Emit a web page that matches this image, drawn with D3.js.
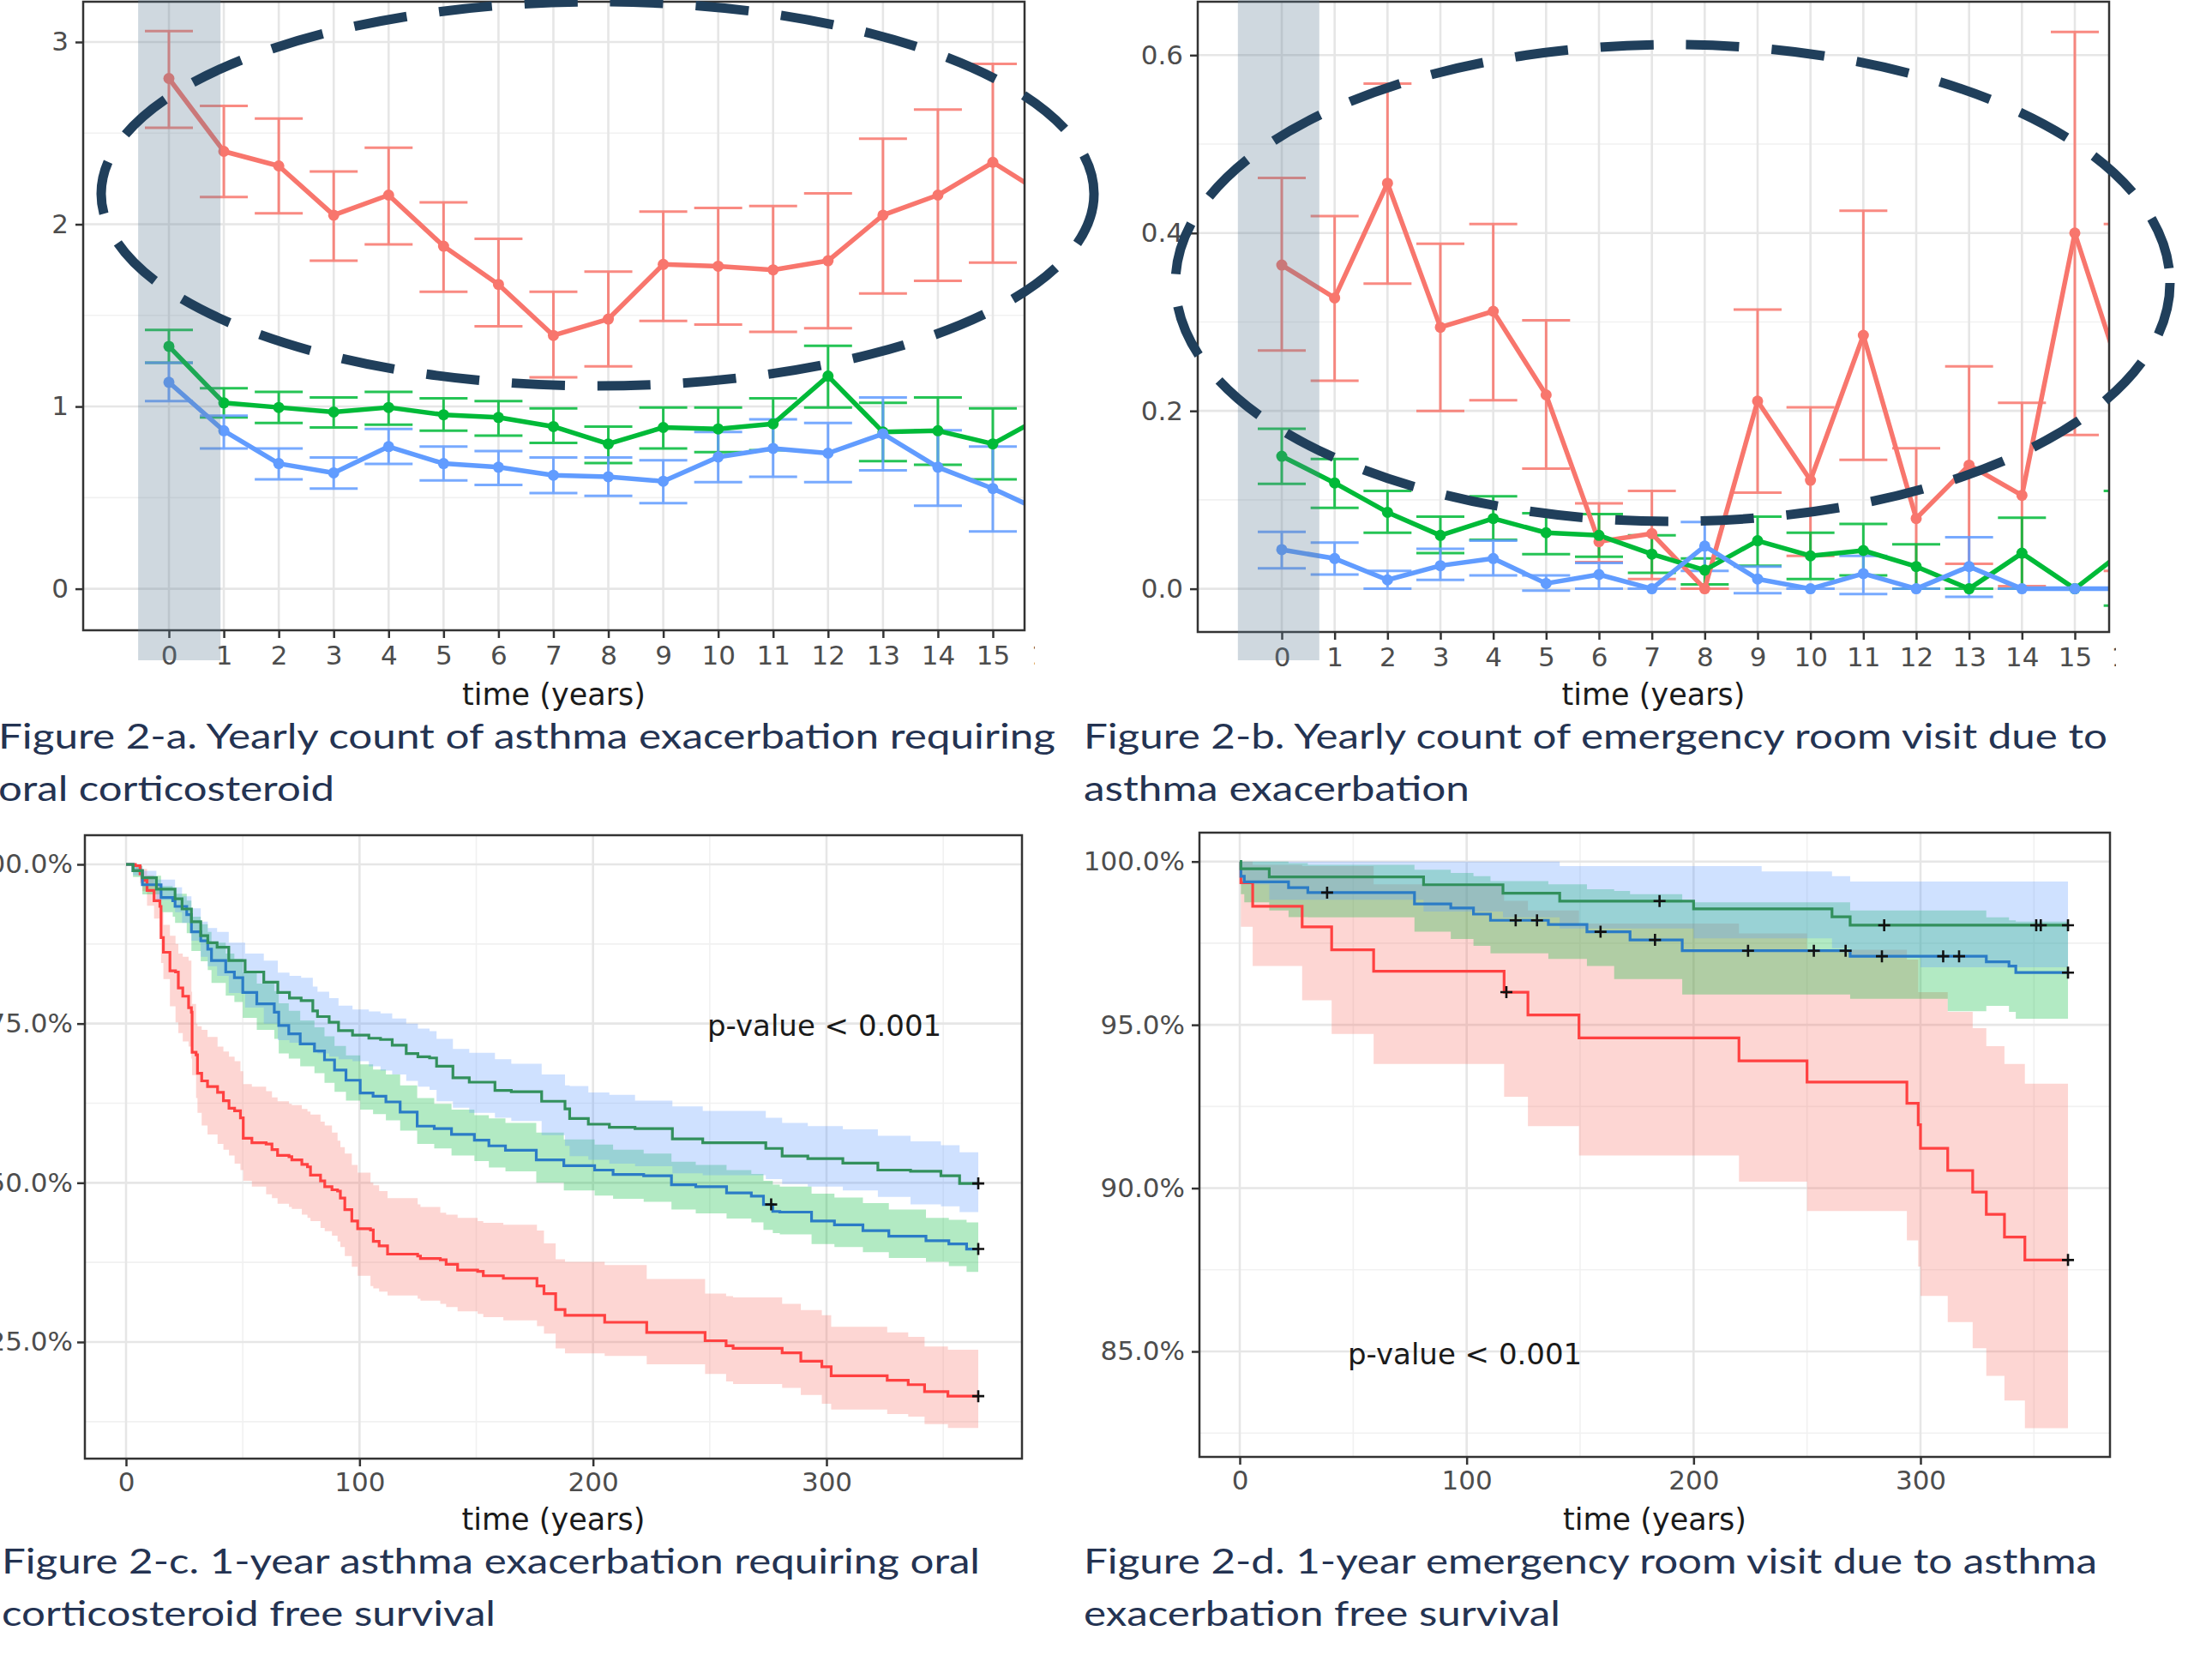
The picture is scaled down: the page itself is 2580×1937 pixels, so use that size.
<!DOCTYPE html>
<html>
<head>
<meta charset="utf-8">
<title>Figure 2</title>
<script src="https://cdn.jsdelivr.net/npm/d3@7"></script>
<style>
  body { margin: 0; background: #ffffff; }
</style>
</head>
<body>
<svg id="chart" width="2580" height="1937"></svg>
<script>
// ======================================
// Data: yearly counts, panels a and b (mean, lower, upper per year)
// ======================================
var years = [0, 1, 2, 3, 4, 5, 6, 7, 8, 9, 10, 11, 12, 13, 14, 15, 16];

var aRedMean   = [2.80, 2.40, 2.32, 2.05, 2.16, 1.88, 1.67, 1.39, 1.48, 1.78, 1.77, 1.75, 1.80, 2.05, 2.16, 2.34, 2.15];
var aRedLow    = [2.53, 2.15, 2.06, 1.80, 1.89, 1.63, 1.44, 1.16, 1.22, 1.47, 1.45, 1.41, 1.43, 1.62, 1.69, 1.79, 1.57];
var aRedHigh   = [3.06, 2.65, 2.58, 2.29, 2.42, 2.12, 1.92, 1.63, 1.74, 2.07, 2.09, 2.10, 2.17, 2.47, 2.63, 2.88, 2.78];
var aGreenMean = [1.33, 1.02, 0.995, 0.97, 0.995, 0.955, 0.94, 0.89, 0.795, 0.885, 0.877, 0.905, 1.167, 0.86, 0.867, 0.795, 0.96];
var aGreenLow  = [1.24, 0.94, 0.91, 0.885, 0.90, 0.867, 0.84, 0.80, 0.69, 0.77, 0.75, 0.76, 0.995, 0.70, 0.68, 0.60, 0.67];
var aGreenHigh = [1.42, 1.10, 1.08, 1.05, 1.08, 1.045, 1.03, 0.99, 0.89, 0.995, 0.995, 1.045, 1.333, 1.02, 1.05, 0.99, 1.24];
var aBlueMean  = [1.133, 0.867, 0.687, 0.636, 0.78, 0.687, 0.667, 0.623, 0.615, 0.59, 0.723, 0.77, 0.744, 0.85, 0.667, 0.55, 0.41];
var aBlueLow   = [1.03, 0.77, 0.60, 0.55, 0.685, 0.595, 0.57, 0.525, 0.51, 0.47, 0.585, 0.615, 0.585, 0.65, 0.456, 0.315, 0.167];
var aBlueHigh  = [1.24, 0.95, 0.77, 0.72, 0.877, 0.78, 0.756, 0.72, 0.72, 0.705, 0.86, 0.93, 0.91, 1.05, 0.87, 0.78, 0.667];

var bRedMean   = [0.364, 0.327, 0.456, 0.294, 0.312, 0.218, 0.053, 0.062, 0.0, 0.211, 0.122, 0.285, 0.079, 0.139, 0.105, 0.40, 0.217];
var bRedLow    = [0.268, 0.234, 0.343, 0.200, 0.212, 0.135, 0.030, 0.011, 0.0, 0.108, 0.037, 0.145, 0.0, 0.028, 0.003, 0.173, 0.02];
var bRedHigh   = [0.462, 0.419, 0.568, 0.388, 0.410, 0.302, 0.096, 0.110, 0.0, 0.314, 0.204, 0.425, 0.158, 0.250, 0.209, 0.626, 0.41];
var bGreenMean = [0.149, 0.119, 0.086, 0.060, 0.079, 0.063, 0.060, 0.039, 0.021, 0.054, 0.037, 0.043, 0.025, 0.0, 0.040, 0.0, 0.046];
var bGreenLow  = [0.118, 0.091, 0.063, 0.040, 0.055, 0.039, 0.036, 0.018, 0.005, 0.026, 0.011, 0.015, 0.0, 0.0, 0.0, 0.0, -0.019];
var bGreenHigh = [0.180, 0.146, 0.110, 0.081, 0.104, 0.085, 0.084, 0.060, 0.034, 0.081, 0.063, 0.073, 0.050, 0.0, 0.080, 0.0, 0.110];
var bBlueMean  = [0.044, 0.034, 0.010, 0.026, 0.034, 0.006, 0.016, 0.0, 0.048, 0.011, 0.0, 0.017, 0.0, 0.025, 0.0, 0.0, 0.0];
var bBlueLow   = [0.023, 0.016, 0.0, 0.010, 0.015, -0.002, 0.0, 0.0, 0.020, -0.005, 0.0, -0.006, 0.0, -0.009, 0.0, 0.0, 0.0];
var bBlueHigh  = [0.064, 0.052, 0.020, 0.045, 0.054, 0.015, 0.029, 0.0, 0.075, 0.025, 0.0, 0.037, 0.0, 0.058, 0.0, 0.0, 0.0];

// ======================================
// Data: Kaplan-Meier curves, panels c and d  -- rows are [day, survival %, lower %, upper %]
// ======================================
var cRedKM = [
  [0,100,100,100],[4,99.8,99.0,100],[6,98.5,97.0,99.8],[7,97.5,95.8,99.3],[9,95.9,93.5,98.3],
  [12,94.3,91.5,97.0],[14.5,93.4,90.2,96.3],[15,88.5,84.5,92.5],[16,86.2,82.0,90.5],[18.8,83.3,77.7,88.8],
  [21.2,83.1,75.2,87.5],[22.4,80.6,73.5,86.0],[24.3,79.3,72.2,85.5],[26.8,77.5,71.4,84.9],[28,76.8,69.5,80.0],
  [28.3,70.5,66.9,78.1],[30,70.1,63.3,75.0],[30.6,67.2,61.0,74.6],[32.4,66.0,59.0,74.0],[34.9,65.1,57.6,72.9],
  [39.2,64.2,56.1,71.4],[41.7,62.9,55.2,70.6],[44.1,61.7,54.3,69.8],[46.5,61.3,53.0,69.1],[49,60.2,52.0,67.5],
  [50.2,57.0,50.3,65.5],[53.9,56.3,49.4,65.1],[60,56.1,48.2,64.4],[62.5,55.2,47.6,63.4],[64.9,54.3,46.7,62.8],
  [69.8,54.1,46.2,62.4],[71,53.6,45.9,62.2],[75.3,52.9,45.0,61.6],[77.7,52.5,44.5,61.2],[79,51.2,44.0,60.7],
  [83.3,50.3,42.9,59.6],[85.1,49.4,42.4,59.0],[88.2,48.9,41.7,57.9],[90.6,48.7,40.8,56.6],[91.8,47.6,39.9,55.6],
  [93.7,45.8,38.5,54.6],[96.7,44.0,36.8,52.8],[99.2,42.8,35.4,51.6],[104.7,42.6,33.8,50.0],[105.9,40.8,33.4,49.6],
  [108.4,40.1,32.9,48.7],[112,38.8,32.3,47.6],[124.9,38.5,31.8,46.6],[126.1,38.1,31.5,46.2],[134.6,37.9,31.0,45.3],
  [137.1,37.2,30.5,45.0],[142,36.3,29.8,44.5],[150.6,36.1,29.4,44.0],[153,35.4,28.9,43.7],[161.6,35.0,28.4,43.4],
  [176,33.8,27.5,42.5],[179,32.6,26.3,40.5],[184,30.1,24.0,38.0],[188,29.2,23.2,37.6],[205,28.1,22.8,37.1],
  [223,26.5,21.5,34.9],[248,25.2,20.0,32.6],[257,24.4,18.8,32.2],[260,24.0,18.4,32.0],[281,23.3,17.8,31.0],
  [289,22.0,16.7,30.0],[298,21.1,15.3,29.2],[302,19.7,14.4,27.4],[326,19.0,13.7,26.5],[335,18.3,13.3,25.8],
  [342,17.2,12.1,24.3],[352,16.5,11.5,23.8],[365,16.5,11.5,23.6]
];
var cTopKM = [
  [0,100,100,100],[3,99,98.3,99.7],[7,97.9,96.6,99.0],[13,96.1,94.4,97.6],[21,94.6,92.5,96.4],
  [24,93.0,90.8,95.0],[28,91.0,88.0,93.1],[32,88.8,85.5,91.0],[35,87.7,84.0,90.0],[39,87.0,82.5,89.4],
  [44,84.9,79.8,87.7],[51,83.1,77.5,86.0],[59,81.5,75.0,84.9],[65,79.9,72.4,83.0],[70,79.0,72.0,82.5],
  [75,78.6,71.8,82.2],[80,77.0,70.8,80.8],[82,76.1,70.3,80.0],[87,75.2,69.8,79.0],[91,73.9,69.4,77.8],
  [97,73.2,69.1,77.2],[104,72.7,68.3,76.9],[109,72.5,67.6,76.6],[114,71.6,67.0,75.8],[120,70.3,66.0,75.0],
  [125,69.8,65.1,74.2],[130,69.6,64.6,73.8],[133,68.3,62.8,72.6],[140,66.5,61.8,71.0],[147,65.8,61.0,70.4],
  [158,64.5,60.2,69.4],[165,64.3,59.7,68.7],[178,62.8,57.5,67.0],[188,61.6,55.8,65.3],[190,60.1,54.2,65.2],
  [198,59.2,53.6,64.2],[207,58.7,53.0,63.8],[218,58.5,52.6,62.9],[234,56.9,51.5,62.0],[247,56.3,51.2,61.3],
  [274,55.4,50.6,60.2],[281,54.2,49.8,59.4],[292,53.8,49.4,58.9],[307,53.1,48.8,58.4],[322,52.0,47.8,57.4],
  [336,51.8,46.6,56.5],[349,51.1,46.3,55.9],[357,49.9,45.4,54.8],[365,49.9,45.4,54.8]
];
var cMidKM = [
  [0,100,100,100],[3,99,98.0,99.8],[7,96.8,95.3,98.2],[15,94.8,92.5,96.6],[20,94.3,91.8,96.2],
  [21,93.4,90.8,95.4],[26,92.1,89.2,94.3],[28,89.4,86.4,91.8],[32,88.0,84.8,90.6],[35,86.7,83.4,89.4],
  [36.6,84.9,81.4,87.7],[42.7,83.1,79.4,86.0],[46.4,82.2,78.4,85.2],[50,79.9,75.9,83.0],[56,78.1,74.0,81.3],
  [63.5,76.8,72.6,80.1],[65.4,74.7,70.3,78.2],[69.7,73.4,69.5,77.0],[74.6,71.8,68.3,75.5],[80.7,70.7,67.2,74.4],
  [85,69.3,65.7,73.0],[89.3,67.7,64.3,71.5],[94.2,66.1,62.9,70.0],[100.3,64.1,61.5,68.6],[105.8,63.6,60.8,67.8],
  [111.3,62.7,59.8,67.0],[117.4,61.1,58.2,65.3],[124.7,58.9,56.1,63.3],[132,58.5,55.4,62.4],[139.4,57.6,54.3,61.5],
  [149.2,56.7,53.4,60.6],[155.4,55.8,52.4,60.1],[162.5,55.1,51.8,59.4],[175.7,53.6,50.0,57.9],[187.5,52.7,48.8,56.8],
  [200.7,52.0,48.0,56.0],[208.6,51.3,47.5,55.2],[221.7,51.1,47.0,54.6],[233.6,49.7,45.8,53.3],[244,49.4,45.2,52.8],
  [257.2,48.4,44.4,52.0],[267.8,47.9,43.8,51.4],[273,46.6,42.6,50.3],[277,45.5,42.1,49.7],[280,45.4,41.9,49.4],
  [293.6,44.0,40.4,48.3],[303.4,43.4,39.9,47.7],[315.6,42.5,39.1,46.8],[326.7,41.6,38.2,45.8],[342.6,40.9,37.6,44.5],
  [352.4,40.4,36.9,44.2],[360,39.6,36.0,43.8],[365,39.6,36.0,43.8]
];
var cRedCensor = [365];
var cTopCensor = [365];
var cMidCensor = [276.3, 365];

var dRedKM = [
  [0,100,100,100],[0.5,99.35,98.0,100],[5.7,98.63,96.8,99.9],[27.5,98.0,95.75,99.86],[40.5,97.3,94.72,99.86],
  [59,96.64,93.8,99.3],[116.5,96.0,92.8,98.8],[127,95.3,91.9,98.5],[149.5,94.6,91.0,98.1],[220,93.9,90.2,97.8],
  [250,93.25,89.3,97.3],[294,92.6,88.4,97.0],[299,91.94,87.6,96.0],[300,91.22,86.7,96.0],[312,90.54,85.9,95.4],
  [323,89.88,85.1,94.9],[329,89.2,84.25,94.35],[337,88.5,83.5,93.8],[346,87.8,82.65,93.2],[365,87.8,82.65,93.2]
];
var dTopKM = [
  [0,100,100,100],[0.5,99.78,99.3,100],[13,99.53,98.83,100],[81,99.29,98.47,100],[116,99.03,98.29,100],
  [141,98.79,97.95,99.86],[200,98.55,97.65,99.86],[230,98.55,97.65,99.7],[261,98.31,97.35,99.55],
  [269,98.05,97.05,99.39],[300,98.05,96.76,99.39],[365,98.05,96.76,99.39]
];
var dMidKM = [
  [0,100,100,100],[0.5,99.55,99.0,100],[2,99.38,98.75,100],[13,99.38,98.5,100],[21.5,99.2,98.3,99.95],
  [30,99.05,98.29,99.9],[77,98.7,97.85,99.75],[93,98.58,97.63,99.65],[103,98.39,97.42,99.55],[110.5,98.2,97.19,99.4],
  [136,98.07,97.02,99.3],[153,97.85,96.8,99.15],[165,97.85,96.4,99.1],[172,97.6,96.4,99.0],[195,97.27,95.93,98.75],
  [269,97.1,95.8,98.5],[312,97.1,95.42,98.5],[329,96.93,95.58,98.29],[339,96.8,95.4,98.2],[342,96.6,95.19,98.16],
  [365,96.6,95.19,98.16]
];
var dRedCensor = [117.5, 365];
var dTopCensor = [185, 284, 351, 353, 365];
var dMidCensor = [38.5, 121.6, 131, 159, 183, 224, 253, 267, 283, 310, 317, 365];

// tick labels
var aYTicks = [0, 1, 2, 3];
var bYTicks = [0, 0.2, 0.4, 0.6];
var kmXTicks = [0, 100, 200, 300];
var cYTicks = [25, 50, 75, 100];
var dYTicks = [85, 90, 95, 100];

var captions = [
  ['Figure 2-a. Yearly count of asthma exacerbation requiring', 'oral corticosteroid'],
  ['Figure 2-b. Yearly count of emergency room visit due to', 'asthma exacerbation'],
  ['Figure 2-c. 1-year asthma exacerbation requiring oral', 'corticosteroid free survival'],
  ['Figure 2-d. 1-year emergency room visit due to asthma', 'exacerbation free survival']
];

// ======================================
// Colours and layout
// ======================================
var col = { red: '#F8766D', green: '#00BA38', blue: '#619CFF' };
var kmLine = { red: '#ff4141', top: '#32905c', mid: '#2b7cc6' };
var tickFont = 'DejaVu Sans';

var svg = d3.select('#chart');
var defs = svg.append('defs');

function addClip(id, x0, y0, x1, y1) {
  defs.append('clipPath').attr('id', id)
    .append('rect').attr('x', x0).attr('y', y0).attr('width', x1 - x0).attr('height', y1 - y0);
  return 'url(#' + id + ')';
}

function drawGrid(g, box, x, y, xMajor, xMinor, yMajor, yMinor) {
  var gg = g.append('g');
  gg.selectAll('.ymin').data(yMinor).enter().append('line')
    .attr('x1', box.left).attr('x2', box.right)
    .attr('y1', function(d){ return y(d); }).attr('y2', function(d){ return y(d); })
    .attr('stroke', '#f1f1f1').attr('stroke-width', 1.6);
  gg.selectAll('.xmin').data(xMinor).enter().append('line')
    .attr('y1', box.top).attr('y2', box.bottom)
    .attr('x1', function(d){ return x(d); }).attr('x2', function(d){ return x(d); })
    .attr('stroke', '#f1f1f1').attr('stroke-width', 1.6);
  gg.selectAll('.ymaj').data(yMajor).enter().append('line')
    .attr('x1', box.left).attr('x2', box.right)
    .attr('y1', function(d){ return y(d); }).attr('y2', function(d){ return y(d); })
    .attr('stroke', '#e6e6e6').attr('stroke-width', 2.6);
  gg.selectAll('.xmaj').data(xMajor.filter(function(d){ return x(d) > box.left && x(d) < box.right; }))
    .enter().append('line')
    .attr('y1', box.top).attr('y2', box.bottom)
    .attr('x1', function(d){ return x(d); }).attr('x2', function(d){ return x(d); })
    .attr('stroke', '#e6e6e6').attr('stroke-width', 2.6);
}

function styleAxis(sel) {
  sel.select('.domain').remove();
  sel.selectAll('.tick line').attr('stroke', '#333333').attr('stroke-width', 2.5);
  sel.selectAll('.tick text').attr('fill', '#4d4d4d')
    .attr('font-family', tickFont).attr('font-size', 31);
}

function drawFrame(g, box) {
  g.append('rect')
    .attr('x', box.left).attr('y', box.top)
    .attr('width', box.right - box.left).attr('height', box.bottom - box.top)
    .attr('fill', 'none').attr('stroke', '#333333').attr('stroke-width', 2.5);
}

function axisTitle(g, cx, baseline) {
  g.append('text').text('time (years)')
    .attr('x', cx).attr('y', baseline)
    .attr('text-anchor', 'middle')
    .attr('font-family', tickFont).attr('font-size', 35)
    .attr('fill', '#1a1a1a');
}

// ======================================
// Panels a and b: yearly counts with error bars
// ======================================
function yearlyPanel(p) {
  var g = svg.append('g');
  var box = p.box;
  var x = d3.scaleLinear().domain([0, 15]).range(p.xPx);
  var y = d3.scaleLinear().domain(p.yDom).range(p.yPx);

  drawGrid(g, box, x, y, years, [], p.yTicks, p.yMinor);

  var data = g.append('g').attr('clip-path', addClip(p.id + '-clip', box.left, box.top, box.right, box.bottom));
  var cap = 28;

  p.series.forEach(function(s){
    var eb = data.append('g').attr('stroke', s.color).attr('stroke-width', 3).attr('opacity', 0.85);
    years.forEach(function(yr, i){
      var cx = x(yr);
      eb.append('line').attr('x1', cx).attr('x2', cx).attr('y1', y(s.low[i])).attr('y2', y(s.high[i]));
      eb.append('line').attr('x1', cx - cap).attr('x2', cx + cap).attr('y1', y(s.low[i])).attr('y2', y(s.low[i]));
      eb.append('line').attr('x1', cx - cap).attr('x2', cx + cap).attr('y1', y(s.high[i])).attr('y2', y(s.high[i]));
    });
  });

  var line = d3.line()
    .x(function(d){ return x(d[0]); })
    .y(function(d){ return y(d[1]); });

  p.series.forEach(function(s){
    data.append('path')
      .datum(d3.zip(years, s.mean))
      .attr('d', line)
      .attr('fill', 'none').attr('stroke', s.color)
      .attr('stroke-width', 5.5).attr('stroke-linejoin', 'round');
  });
  p.series.forEach(function(s){
    data.selectAll(null).data(d3.zip(years, s.mean)).enter().append('circle')
      .attr('cx', function(d){ return x(d[0]); })
      .attr('cy', function(d){ return y(d[1]); })
      .attr('r', 6.5).attr('fill', s.color);
  });

  // axes (the outer group carries the clip, so the clip box is in page coordinates)
  var xaOuter = g.append('g')
    .attr('clip-path', addClip(p.id + '-xlab', box.left - 60, box.bottom - 5, p.labelClip, box.bottom + 90));
  var xa = xaOuter.append('g')
    .attr('transform', 'translate(0,' + box.bottom + ')')
    .call(d3.axisBottom(x).tickValues(years).tickSize(9).tickPadding(9).tickFormat(d3.format('d')));
  styleAxis(xa);
  var ya = g.append('g')
    .attr('transform', 'translate(' + box.left + ',0)')
    .call(d3.axisLeft(y).tickValues(p.yTicks).tickSize(9).tickPadding(8).tickFormat(p.yFormat));
  styleAxis(ya);

  drawFrame(g, box);
  axisTitle(g, (box.left + box.right) / 2, 822);

  // shaded baseline year
  g.append('rect')
    .attr('x', x(p.shade[0])).attr('y', 0)
    .attr('width', x(p.shade[1]) - x(p.shade[0])).attr('height', 770)
    .attr('fill', '#5f7d94').attr('opacity', 0.3);
}

yearlyPanel({
  id: 'pa',
  box: { left: 97, right: 1195, top: 2, bottom: 735 },
  xPx: [197, 1158],
  yDom: [0, 3], yPx: [686.6, 49],
  yTicks: aYTicks, yMinor: [0.5, 1.5, 2.5],
  yFormat: d3.format('d'),
  labelClip: 1207,
  shade: [-0.56, 0.94],
  series: [
    { color: col.red, mean: aRedMean, low: aRedLow, high: aRedHigh },
    { color: col.green, mean: aGreenMean, low: aGreenLow, high: aGreenHigh },
    { color: col.blue, mean: aBlueMean, low: aBlueLow, high: aBlueHigh }
  ]
});

yearlyPanel({
  id: 'pb',
  box: { left: 1397, right: 2460, top: 2, bottom: 737 },
  xPx: [1495, 2420],
  yDom: [0, 0.6], yPx: [686.6, 64.3],
  yTicks: bYTicks, yMinor: [0.1, 0.3, 0.5],
  yFormat: d3.format('.1f'),
  labelClip: 2468,
  shade: [-0.83, 0.71],
  series: [
    { color: col.red, mean: bRedMean, low: bRedLow, high: bRedHigh },
    { color: col.green, mean: bGreenMean, low: bGreenLow, high: bGreenHigh },
    { color: col.blue, mean: bBlueMean, low: bBlueLow, high: bBlueHigh }
  ]
});

// ======================================
// Panels c and d: Kaplan-Meier curves
// ======================================
function kmPanel(p) {
  var g = svg.append('g');
  var box = p.box;
  var x = d3.scaleLinear().domain([0, 300]).range(p.xPx);
  var y = d3.scaleLinear().domain(p.yDom).range(p.yPx);

  drawGrid(g, box, x, y, kmXTicks, [50, 150, 250, 350], p.yTicks, p.yMinor);

  var data = g.append('g').attr('clip-path', addClip(p.id + '-clip', box.left, box.top, box.right, box.bottom));

  var area = d3.area().curve(d3.curveStepAfter)
    .x(function(d){ return x(d[0]); })
    .y0(function(d){ return y(d[2]); })
    .y1(function(d){ return y(d[3]); });
  var line = d3.line().curve(d3.curveStepAfter)
    .x(function(d){ return x(d[0]); })
    .y(function(d){ return y(d[1]); });

  p.curves.forEach(function(c){
    data.append('path').datum(c.rows).attr('d', area)
      .attr('fill', c.fill).attr('fill-opacity', 0.3).attr('stroke', 'none');
  });
  p.curves.forEach(function(c){
    data.append('path').datum(c.rows).attr('d', line)
      .attr('fill', 'none').attr('stroke', c.line).attr('stroke-width', 3.2);
  });
  p.curves.forEach(function(c){
    var times = c.rows.map(function(r){ return r[0]; });
    c.censor.forEach(function(t){
      var s = c.rows[d3.bisectRight(times, t) - 1][1];
      var cx = x(t), cy = y(s);
      data.append('path')
        .attr('d', 'M' + (cx - 7) + ',' + cy + 'H' + (cx + 7) + 'M' + cx + ',' + (cy - 7) + 'V' + (cy + 7))
        .attr('stroke', '#111111').attr('stroke-width', 2.6);
    });
  });

  var xa = g.append('g')
    .attr('transform', 'translate(0,' + box.bottom + ')')
    .call(d3.axisBottom(x).tickValues(kmXTicks).tickSize(9).tickPadding(7).tickFormat(d3.format('d')));
  styleAxis(xa);
  var ya = g.append('g')
    .attr('transform', 'translate(' + box.left + ',0)')
    .call(d3.axisLeft(y).tickValues(p.yTicks).tickSize(9).tickPadding(p.yPad)
      .tickFormat(function(d){ return d.toFixed(1) + '%'; }));
  styleAxis(ya);

  drawFrame(g, box);
  axisTitle(g, (box.left + box.right) / 2, 1784);

  g.append('text').text('p-value < 0.001')
    .attr('x', p.pval[0]).attr('y', p.pval[1])
    .attr('font-family', tickFont).attr('font-size', 34)
    .attr('fill', '#1a1a1a');
}

kmPanel({
  id: 'pc',
  box: { left: 99, right: 1192, top: 974, bottom: 1701 },
  xPx: [147, 964],
  yDom: [25, 100], yPx: [1565, 1008],
  yTicks: cYTicks, yMinor: [12.5, 37.5, 62.5, 87.5],
  yPad: 5,
  pval: [825, 1208],
  curves: [
    { rows: cRedKM, fill: col.red, line: kmLine.red, censor: cRedCensor },
    { rows: cMidKM, fill: col.green, line: kmLine.mid, censor: cMidCensor },
    { rows: cTopKM, fill: col.blue, line: kmLine.top, censor: cTopCensor }
  ]
});

kmPanel({
  id: 'pd',
  box: { left: 1399, right: 2461, top: 971, bottom: 1699 },
  xPx: [1446, 2240],
  yDom: [85, 100], yPx: [1576, 1004.7],
  yTicks: dYTicks, yMinor: [82.5, 87.5, 92.5, 97.5],
  yPad: 8,
  pval: [1572, 1591],
  curves: [
    { rows: dRedKM, fill: col.red, line: kmLine.red, censor: dRedCensor },
    { rows: dMidKM, fill: col.green, line: kmLine.mid, censor: dMidCensor },
    { rows: dTopKM, fill: col.blue, line: kmLine.top, censor: dTopCensor }
  ]
});

// ======================================
// Dashed highlight ellipses
// ======================================
var ellipses = [
  { cx: 697, cy: 226, rx: 579, ry: 224 },
  { cx: 1951, cy: 330, rx: 580, ry: 278 }
];
svg.selectAll('.hl').data(ellipses).enter().append('ellipse')
  .attr('cx', function(d){ return d.cx; }).attr('cy', function(d){ return d.cy; })
  .attr('rx', function(d){ return d.rx; }).attr('ry', function(d){ return d.ry; })
  .attr('fill', 'none').attr('stroke', '#203f5b')
  .attr('stroke-width', 11).attr('stroke-dasharray', '62 38');

// ======================================
// Figure captions
// ======================================
var capPos = [
  { x: -2, y: [873, 934], len: [1233, 392] },
  { x: 1264, y: [873, 934], len: [1194, 450] },
  { x: 2, y: [1835, 1896], len: [1141, 576] },
  { x: 1264, y: [1835, 1896], len: [1182, 556] }
];
captions.forEach(function(lines, i){
  lines.forEach(function(t, j){
    svg.append('text').text(t)
      .attr('x', capPos[i].x).attr('y', capPos[i].y[j])
      .attr('font-family', 'Lato').attr('font-size', 40)
      .attr('fill', '#243352')
      .attr('textLength', capPos[i].len[j]).attr('lengthAdjust', 'spacingAndGlyphs');
  });
});
</script>
</body>
</html>
